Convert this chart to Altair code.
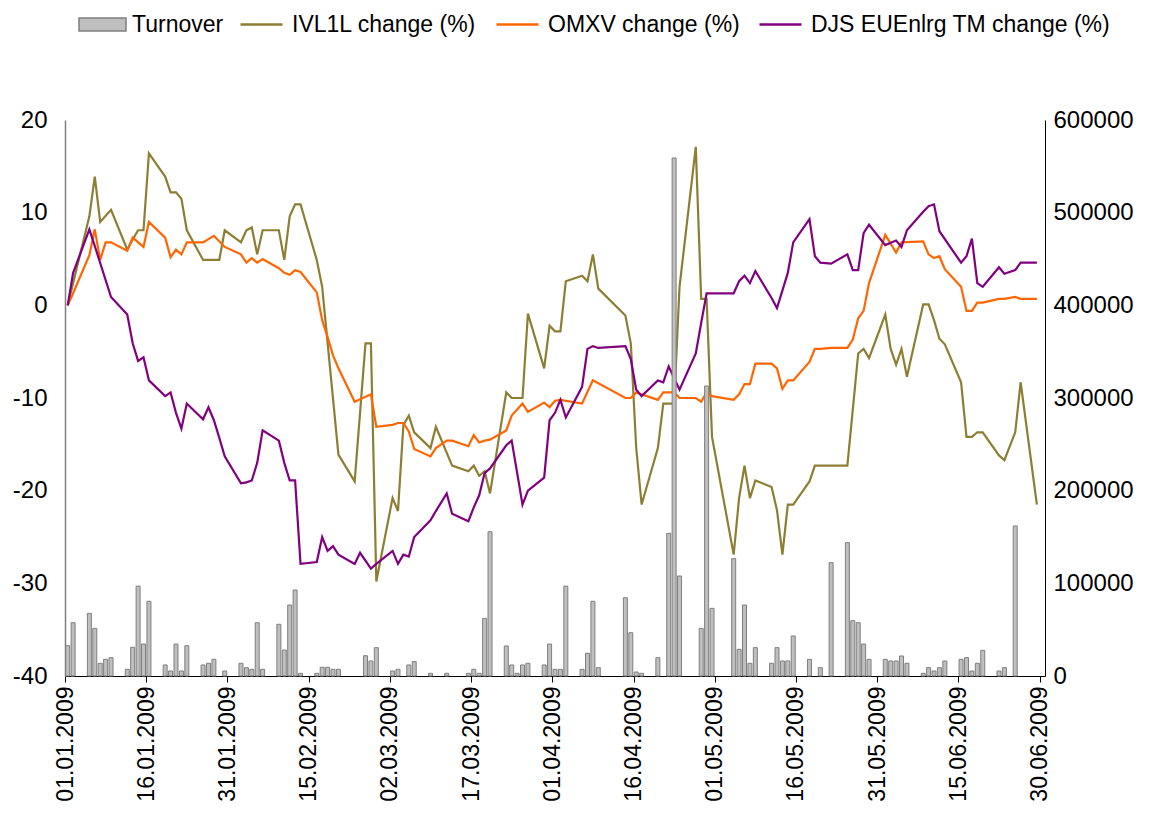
import altair as alt
import pandas as pd

BASE = pd.Timestamp("2009-01-01T12:00:00")

# Day offsets from 01.01.2009 (vertices) and values (%)
ivl_days = [0, 4, 5, 6, 8, 11, 12, 13, 14, 15, 18, 19, 20, 21, 22, 25, 28, 29, 32, 33, 34, 35, 36, 39, 40, 41, 42, 43,
            46, 47, 50, 53, 55, 56, 57, 60, 61, 62, 63, 64, 67, 68, 71, 74, 75, 76, 77, 78, 81, 82, 84, 85, 88, 89, 90,
            91, 92, 95, 96, 97, 98, 103, 104, 105, 106, 109, 110, 112, 113, 116, 117, 118, 119, 123, 124, 125, 126,
            127, 130, 131, 132, 133, 134, 137, 138, 144, 146, 147, 148, 151, 152, 153, 154, 155, 158, 159, 160, 161,
            162, 165, 166, 167, 168, 169, 172, 173, 175, 176, 179]
ivl_vals = [0, 9.6, 13.9, 9.0, 10.3, 6.0, 7.1, 8.1, 8.1, 16.4, 13.9, 12.2, 12.2, 11.5, 8.1, 4.9, 4.9, 8.1, 6.8, 8.1, 8.4,
            5.5, 8.1, 8.1, 4.9, 9.6, 10.9, 10.9, 4.9, 2.0, -16.1, -19.0, -4.1, -4.1, -29.8, -20.8, -22.2, -12.9, -11.9,
            -13.7, -15.4, -13.1, -17.3, -17.9, -17.3, -18.4, -17.9, -20.3, -9.4, -10.0, -10.0, -0.9, -6.8, -2.2, -2.8,
            -2.8, 2.6, 3.2, 2.6, 5.5, 1.8, -1.1, -4.1, -15.4, -21.5, -15.4, -10.6, -10.6, 2.0, 17.1, 0.7, 0.7, -14.2,
            -26.9, -20.8, -17.3, -20.8, -18.9, -19.6, -22.1, -26.9, -21.5, -21.5, -19.0, -17.3, -17.3, -5.2, -4.7,
            -5.7, -1.0, -4.7, -6.4, -4.7, -7.7, 0.1, 0.1, -1.6, -3.6, -4.2, -8.3, -14.2, -14.2, -13.7, -13.7, -16.2,
            -16.7, -13.7, -8.3, -21.5]

omxv_days = [0, 1, 4, 5, 6, 7, 8, 11, 12, 14, 15, 18, 19, 20, 21, 22, 25, 27, 29, 32, 33, 34, 35, 36, 39, 40, 41, 42,
             43, 46, 47, 48, 49, 50, 53, 56, 57, 60, 61, 62, 63, 64, 67, 68, 70, 71, 74, 75, 76, 77, 78, 81, 82, 84,
             85, 88, 89, 90, 91, 95, 97, 103, 104, 105, 109, 110, 112, 113, 116, 117, 118, 119, 123, 124, 125, 126,
             127, 130, 131, 132, 133, 134, 137, 138, 139, 141, 144, 145, 146, 147, 148, 151, 153, 154, 158, 159, 160,
             161, 162, 165, 166, 167, 168, 169, 172, 173, 175, 176, 179]
omxv_vals = [0, 1.3, 5.4, 8.2, 4.9, 6.8, 6.8, 5.9, 7.3, 6.3, 9.0, 7.3, 5.2, 6.0, 5.5, 6.8, 6.8, 7.5, 6.3, 5.5, 4.6, 5.1,
             4.6, 5.0, 4.0, 3.5, 3.3, 3.8, 3.6, 1.4, -1.6, -3.4, -5.4, -6.8, -10.4, -9.6, -13.1, -12.9, -12.7, -12.7,
             -13.6, -15.5, -16.3, -15.4, -14.6, -14.6, -15.2, -14.0, -14.8, -14.6, -14.5, -13.5, -11.9, -10.6, -11.5,
             -10.5, -11.0, -10.3, -10.2, -10.6, -8.1, -10.0, -10.0, -9.4, -10.2, -9.4, -9.4, -10.0, -10.0, -10.4,
             -9.4, -9.8, -10.2, -9.6, -8.5, -8.5, -6.3, -6.3, -6.8, -9.0, -8.1, -8.1, -6.1, -4.7, -4.7, -4.6, -4.6,
             -3.7, -1.4, -0.6, 2.4, 7.6, 5.7, 6.8, 6.9, 5.5, 5.1, 5.3, 3.9, 2.0, -0.6, -0.6, 0.3, 0.3, 0.7, 0.7, 0.9,
             0.7, 0.7]

djs_days = [0, 1, 4, 5, 8, 11, 12, 13, 14, 15, 18, 19, 20, 21, 22, 25, 26, 27, 28, 29, 32, 33, 34, 35, 36, 39, 40, 41,
            42, 43, 46, 47, 48, 49, 50, 53, 54, 56, 57, 60, 61, 62, 63, 64, 67, 68, 70, 71, 74, 75, 76, 77, 78, 81, 82,
            84, 85, 88, 89, 90, 91, 92, 95, 96, 97, 98, 103, 104, 105, 106, 109, 110, 111, 113, 116, 117, 118, 123,
            124, 125, 126, 127, 130, 131, 133, 134, 137, 138, 139, 141, 144, 145, 146, 147, 148, 151, 153, 154, 155,
            158, 159, 160, 161, 165, 166, 167, 168, 169, 172, 173, 175, 176, 179]
djs_vals = [0, 3.5, 8.2, 6.4, 0.9, -1.0, -4.1, -6.0, -5.6, -8.1, -9.8, -9.4, -11.6, -13.3, -10.6, -12.3, -11.0, -12.4,
            -14.3, -16.3, -19.2, -19.1, -18.9, -17.0, -13.5, -14.6, -17.0, -18.9, -18.9, -27.9, -27.7, -25.0, -26.5,
            -26.0, -26.9, -27.9, -26.7, -28.4, -27.9, -26.5, -27.9, -26.9, -27.1, -25.0, -23.2, -22.2, -20.3, -22.5,
            -23.3, -21.8, -20.5, -18.1, -17.6, -15.1, -14.6, -21.5, -20.0, -18.6, -12.4, -11.6, -10.2, -12.1, -8.8,
            -4.7, -4.4, -4.6, -4.4, -5.8, -9.1, -9.8, -8.1, -8.3, -6.6, -9.1, -5.2, -1.9, 1.3, 1.3, 2.6, 3.2, 2.4,
            3.7, 0.8, -0.3, 3.5, 6.8, 9.3, 5.3, 4.6, 4.5, 5.5, 3.8, 3.8, 7.8, 8.7, 6.5, 7.0, 6.3, 8.1, 10.1, 10.7,
            10.9, 8.0, 4.6, 5.3, 7.2, 2.4, 2.0, 4.1, 3.4, 3.8, 4.6, 4.6]

turn_days = [0, 1, 4, 5, 6, 7, 8, 11, 12, 13, 14, 15, 18, 19, 20, 21, 22, 25, 26, 27, 29, 32, 33, 34, 35, 36, 39, 40,
             41, 42, 43, 46, 47, 48, 49, 50, 55, 56, 57, 60, 61, 63, 64, 67, 70, 74, 75, 76, 77, 78, 81, 82, 83, 84,
             85, 88, 89, 90, 91, 92, 95, 96, 97, 98, 103, 104, 105, 106, 109, 111, 112, 113, 117, 118, 119, 123, 124,
             125, 126, 127, 130, 131, 132, 133, 134, 137, 139, 141, 144, 145, 146, 147, 148, 151, 152, 153, 154, 155,
             158, 159, 160, 161, 162, 165, 166, 167, 168, 169, 172, 173, 175]
turn_vals = [32700, 57500, 67600, 51400, 13700, 18000, 19800, 7200, 31000, 97000, 34500, 80600, 11900, 5400, 34500, 5400,
             32700, 11900, 13700, 18000, 5400, 13700, 9000, 7200, 57500, 7200, 55800, 28000, 76600, 92800, 2900, 2900,
             9400, 9400, 7200, 7200, 21900, 16200, 30600, 5400, 7200, 11900, 15500, 2900, 2900, 2900, 7200, 2900,
             62200, 155700, 32400, 11900, 2900, 11900, 13700, 11900, 34500, 7200, 7200, 97000, 7200, 24500, 80600,
             9000, 84500, 46700, 4300, 2900, 19800, 154000, 559000, 107900, 51400, 313000, 73000, 126600, 28800,
             76600, 13700, 30600, 13700, 30600, 16200, 16200, 43200, 18000, 9000, 122300, 143900, 59700, 57500, 34500,
             18000, 18000, 16200, 16200, 21600, 13700, 2900, 9000, 5400, 9000, 16200, 18000, 19800, 5400, 13700,
             27700, 5400, 9000, 161900]

series_names = ["IVL1L change (%)", "OMXV change (%)", "DJS EUEnlrg TM change (%)"]
series_colors = ["#8C7F33", "#FF6600", "#800080"]
tick_dates = [(1, 1), (1, 16), (1, 31), (2, 15), (3, 2), (3, 17), (4, 1), (4, 16), (5, 1), (5, 16), (5, 31),
              (6, 15), (6, 30)]
left_ticks = [-40, -30, -20, -10, 0, 10, 20]
right_ticks = [0, 100000, 200000, 300000, 400000, 500000, 600000]


def to_dates(days):
    return [(BASE + pd.Timedelta(days=d)).strftime("%Y-%m-%dT%H:%M:%S") for d in days]


rows = []
for name, days, vals in zip(series_names, [ivl_days, omxv_days, djs_days], [ivl_vals, omxv_vals, djs_vals]):
    for dt, v in zip(to_dates(days), vals):
        rows.append({"date": dt, "value": v, "series": name})
lines_df = pd.DataFrame(rows)
bars_df = pd.DataFrame({"date": to_dates(turn_days), "turnover": turn_vals, "series": "Turnover"})

FONT = "Liberation Sans"
x_scale = alt.Scale(domain=[alt.DateTime(year=2009, month=1, date=1), alt.DateTime(year=2009, month=7, date=1)],
                    nice=False, padding=0)
x_axis = alt.Axis(values=[alt.DateTime(year=2009, month=m, date=d) for m, d in tick_dates], format="%d.%m.%Y",
                  labelAngle=270, tickSize=6, grid=False, domainColor="#000000", tickColor="#000000",
                  labelFontSize=23, labelPadding=4, title=None, labelColor="#000000")

lines = alt.Chart(lines_df).mark_line(strokeWidth=2.2).encode(
    x=alt.X("date:T", scale=x_scale, axis=x_axis),
    y=alt.Y("value:Q", scale=alt.Scale(domain=[-40, 20], nice=False, zero=False),
            axis=alt.Axis(orient="left", values=left_ticks, ticks=False, grid=False, domainColor="#808080",
                          domainWidth=1.5, labelFontSize=24, labelPadding=18, title=None, labelColor="#000000",
                          labelExpr="toString(datum.value)")),
    color=alt.Color("series:N", scale=alt.Scale(domain=series_names, range=series_colors),
                    legend=alt.Legend(orient="none", legendX=174, legendY=-118, direction="horizontal",
                                      title=None, symbolType="stroke", symbolSize=1764, symbolStrokeWidth=2.5,
                                      labelFontSize=23, labelOffset=8, columnPadding=14, gridAlign="none",
                                      labelColor="#000000", labelLimit=400)),
    order=alt.Order("date:T"),
)

bars = alt.Chart(bars_df).mark_bar(width=4, stroke="#7F7F7F", strokeWidth=1).encode(
    x=alt.X("date:T", scale=x_scale, axis=x_axis),
    y=alt.Y("turnover:Q", scale=alt.Scale(domain=[0, 600000], nice=False),
            axis=alt.Axis(orient="right", values=right_ticks, format="d", ticks=False, grid=False,
                          domainColor="#000000", labelFontSize=24, labelPadding=8, title=None,
                          labelColor="#000000")),
    fill=alt.Fill("series:N", scale=alt.Scale(domain=["Turnover"], range=["#BFBFBF"]),
                  legend=alt.Legend(orient="none", legendX=13, legendY=-120, title=None,
                                    symbolType="M-1,-0.28H1V0.28H-1Z", symbolSize=2209,
                                    symbolStrokeColor="#7F7F7F", symbolStrokeWidth=1.5, symbolOpacity=1,
                                    labelFontSize=23, labelOffset=5, labelColor="#000000")),
)

chart = alt.layer(lines, bars).resolve_scale(y="independent").properties(
    width=980, height=556,
    autosize=alt.AutoSizeParams(type="none"),
    padding={"left": 57, "top": 112, "right": 96, "bottom": 130},
).configure(font=FONT).configure_view(strokeWidth=0)

chart.save("out.html", embed_options={"renderer": "svg", "actions": False})
